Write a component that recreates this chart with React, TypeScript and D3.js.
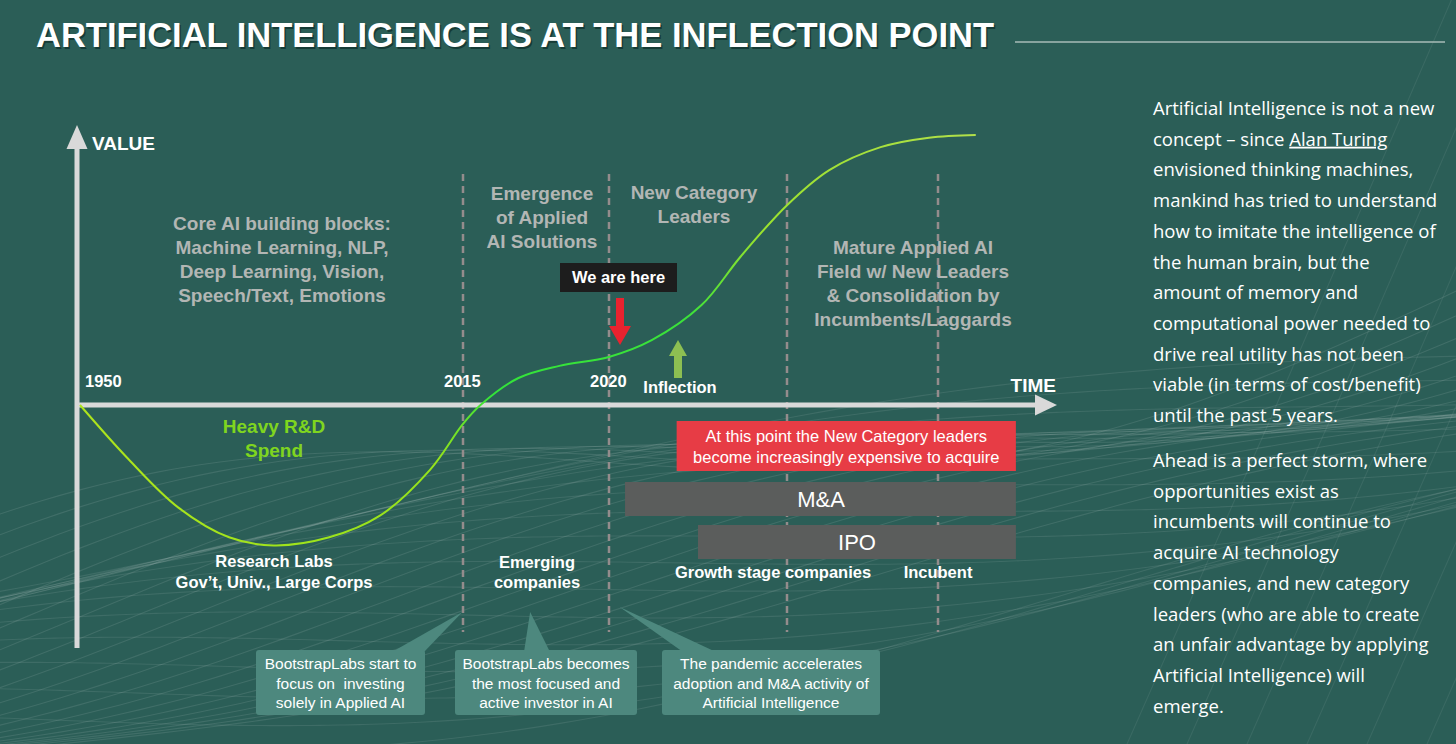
import * as d3 from "d3";

// ---- data ----
// conceptual time axis: years are placed on a piecewise scale
const axisYears = [1950, 2015, 2020, 2025, 2030, 2035];
const yearTicks = [1950, 2015, 2020];
const phaseDividers = [2015, 2020, 2025, 2030];

// value curve (relative value, 0 = time axis, 1 = plateau)
const curveYears = [1950, 1958.2, 1966.7, 1975.3, 1982.9, 1992.3, 2000.9, 2009.4, 2015, 2015.6, 2016.9, 2018.3, 2020, 2021.2, 2022.6, 2023.7, 2025, 2026.4, 2028.1, 2029.7, 2031.6];
const curveValues = [0, -0.2, -0.38, -0.49, -0.52, -0.49, -0.41, -0.24, -0.07, 0, 0.1, 0.145, 0.178, 0.24, 0.37, 0.55, 0.74, 0.87, 0.955, 0.99, 1.0];

const phaseCore = ["Core AI building blocks:", "Machine Learning, NLP,", "Deep Learning, Vision,", "Speech/Text, Emotions"];
const phaseEmergence = ["Emergence", "of Applied", "AI Solutions"];
const phaseLeaders = ["New Category", "Leaders"];
const phaseMature = ["Mature Applied AI", "Field w/ New Leaders", "& Consolidation by", "Incumbents/Laggards"];

const redNote = ["At this point the New Category leaders", "become increasingly expensive to acquire"];
const exitLabels = ["M&A", "IPO"];
const exitFrom = [2020.45, 2022.5];
const exitTo = [2033.3, 2033.3];
const redFrom = 2021.9;

const callouts = [
  ["BootstrapLabs start to", "focus on  investing", "solely in Applied AI"],
  ["BootstrapLabs becomes", "the most focused and", "active investor in AI"],
  ["The pandemic accelerates", "adoption and M&A activity of", "Artificial Intelligence"],
];
const calloutTipYears = [2014.9, 2017.3, 2020.3];

const para1 = [
  "Artificial Intelligence is not a new",
  "concept – since |Alan Turing",
  "envisioned thinking machines,",
  "mankind has tried to understand",
  "how to imitate the intelligence of",
  "the human brain, but the",
  "amount of memory and",
  "computational power needed to",
  "drive real utility has not been",
  "viable (in terms of cost/benefit)",
  "until the past 5 years.",
];
const para2 = [
  "Ahead is a perfect storm, where",
  "opportunities exist as",
  "incumbents will continue to",
  "acquire AI technology",
  "companies, and new category",
  "leaders (who are able to create",
  "an unfair advantage by applying",
  "Artificial Intelligence) will",
  "emerge.",
];

const W = 1456;
const H = 744;
const BG = "#2b5e57";
const AXIS = "#d9d9d9";
const GREY_TXT = "#b2b6b4";
const DIVIDER = "#948c8c";
const SANS = "'Liberation Sans', Arial, Helvetica, sans-serif";
const OPEN = "'Open Sans', sans-serif";
const TITLE = "ARTIFICIAL INTELLIGENCE IS AT THE INFLECTION POINT";

const x = d3.scaleLinear().domain(axisYears).range([80, 463, 609, 787, 938, 1056]);
const y = d3.scaleLinear().domain([0, 1]).range([405, 135]);

const curvePath = d3
  .line<number>()
  .x((d) => x(d))
  .y((_, i) => y(curveValues[i]))
  .curve(d3.curveCatmullRom.alpha(0.5))(curveYears) as string;

// faint background mesh (decorative texture only)
const meshA = d3.range(20).map((i) => {
  const pts = d3.range(-20, W + 41, 20).map((px) => [
    px,
    750 - i * 9 - 0.2 * px + (28 + i * 2.5) * Math.sin(px / 280 + i * 0.22),
  ] as [number, number]);
  return d3.line().curve(d3.curveBasis)(pts) as string;
});
const meshB = d3.range(16).map((i) => {
  const pts = d3.range(-20, W + 41, 20).map((px) => [
    px,
    555 + i * 12 - 0.13 * px + (40 + i * 1.5) * Math.sin(px / 360 + 2 + i * 0.3),
  ] as [number, number]);
  return d3.line().curve(d3.curveBasis)(pts) as string;
});
const diagLines = d3.range(7).map((i) => {
  const x0 = 1120 + i * 60;
  return d3.line()([
    [x0, 760],
    [x0 + 150, 420],
    [x0 + 340, -20],
  ]) as string;
});

function lines(arr: string[], cx: number, y0: number, dy: number, props: any) {
  return arr.map((t, i) => (
    <text key={t + i} x={cx} y={y0 + i * dy} textAnchor="middle" style={{ whiteSpace: "pre" }} {...props}>
      {t}
    </text>
  ));
}

export default function App() {
  const boxes = [
    { x0: 256, x1: 425, base: [392, 424] },
    { x0: 455, x1: 637, base: [524, 550] },
    { x0: 662, x1: 880, base: [683, 716] },
  ];
  return (
    <div style={{ position: "absolute", left: 0, top: 0 }}>
      <svg width={W} height={H} style={{ display: "block" }}>
        <defs>
          <linearGradient id="curveGrad" gradientUnits="userSpaceOnUse" x1={80} x2={975} y1={0} y2={0}>
            <stop offset="0" stopColor="#aee41c" />
            <stop offset="0.4" stopColor="#95e31c" />
            <stop offset="0.46" stopColor="#33e33a" />
            <stop offset="0.68" stopColor="#3be23a" />
            <stop offset="0.76" stopColor="#9ae22e" />
            <stop offset="1" stopColor="#b2e04a" />
          </linearGradient>
        </defs>
        <rect width={W} height={H} fill={BG} />

        {/* background texture */}
        <g fill="none" stroke="#ffffff" strokeWidth={1.1}>
          {meshA.map((d, i) => (
            <path key={"a" + i} d={d} strokeOpacity={0.1} />
          ))}
          {meshB.map((d, i) => (
            <path key={"b" + i} d={d} strokeOpacity={0.09} />
          ))}
          {diagLines.map((d, i) => (
            <path key={"c" + i} d={d} strokeOpacity={0.07} />
          ))}
        </g>

        {/* title */}
        <text x={37.5} y={48.5} fontFamily={SANS} fontWeight="bold" fontSize={34.5} fill="#163b36" textLength={958} lengthAdjust="spacingAndGlyphs">
          {TITLE}
        </text>
        <text x={36} y={47} fontFamily={SANS} fontWeight="bold" fontSize={34.5} fill="#ffffff" textLength={958} lengthAdjust="spacingAndGlyphs">
          {TITLE}
        </text>
        <line x1={1015} x2={1445} y1={42} y2={42} stroke="#a9bcb7" strokeWidth={1.5} />

        {/* phase dividers */}
        {phaseDividers.map((yr) => (
          <line key={yr} x1={x(yr)} x2={x(yr)} y1={174} y2={632} stroke={DIVIDER} strokeWidth={2.5} strokeDasharray="7 5" />
        ))}

        {/* axes */}
        <line x1={77} x2={77} y1={648} y2={146} stroke={AXIS} strokeWidth={5} />
        <path d="M77,125 L66.5,149 L87.5,149 Z" fill={AXIS} />
        <line x1={75} x2={1036} y1={y(0)} y2={y(0)} stroke={AXIS} strokeWidth={5} />
        <path d={`M1057,${y(0)} L1035,${y(0) - 10.5} L1035,${y(0) + 10.5} Z`} fill={AXIS} />

        <text x={92} y={150} fontFamily={SANS} fontWeight="bold" fontSize={19} fill="#fff">VALUE</text>
        <text x={1056} y={392} textAnchor="end" fontFamily={SANS} fontWeight="bold" fontSize={19} fill="#fff">TIME</text>
        {yearTicks.map((yr, i) => (
          <text key={yr} x={i === 0 ? 85 : x(yr) - 19} y={387} fontFamily={SANS} fontWeight="bold" fontSize={16.5} fill="#fff">
            {yr}
          </text>
        ))}

        {/* phase descriptions */}
        {lines(phaseCore, 282, 230, 24, { fontFamily: SANS, fontWeight: "bold", fontSize: 19, fill: GREY_TXT })}
        {lines(phaseEmergence, 542, 200, 24, { fontFamily: SANS, fontWeight: "bold", fontSize: 19, fill: GREY_TXT })}
        {lines(phaseLeaders, 694, 199, 24, { fontFamily: SANS, fontWeight: "bold", fontSize: 19, fill: GREY_TXT })}
        {lines(phaseMature, 913, 254, 24, { fontFamily: SANS, fontWeight: "bold", fontSize: 19, fill: GREY_TXT })}

        {/* value curve */}
        <path d={curvePath} fill="none" stroke="url(#curveGrad)" strokeWidth={2} />

        {/* we are here */}
        <rect x={560} y={263} width={117} height={29} fill="#1d1d1d" />
        <text x={618.5} y={283} textAnchor="middle" fontFamily={SANS} fontWeight="bold" fontSize={16.5} fill="#fff">We are here</text>
        <path d="M616,298 L624,298 L624,326 L631,326 L620,345 L609,326 L616,326 Z" fill="#e8232f" />
        <path d="M678,340 L687,356 L682,356 L682,378 L674,378 L674,356 L669,356 Z" fill="#8dbf52" />
        <text x={680} y={393} textAnchor="middle" fontFamily={SANS} fontWeight="bold" fontSize={16.5} fill="#fff">Inflection</text>

        {/* heavy R&D */}
        {lines(["Heavy R&D", "Spend"], 274, 433, 24, { fontFamily: SANS, fontWeight: "bold", fontSize: 19, fill: "#7fd51f" })}

        {/* red note + exit bands */}
        <rect x={x(redFrom)} y={421} width={x(exitTo[0]) - x(redFrom)} height={50} fill="#e73c45" />
        {lines(redNote, (x(redFrom) + x(exitTo[0])) / 2, 442, 21, { fontFamily: SANS, fontSize: 16.5, fill: "#fff" })}
        {exitLabels.map((lab, i) => (
          <g key={lab}>
            <rect x={x(exitFrom[i])} y={482 + i * 43} width={x(exitTo[i]) - x(exitFrom[i])} height={34} fill="#5b5d5c" />
            <text x={i === 0 ? 821 : 857} y={507 + i * 43} textAnchor="middle" fontFamily={SANS} fontSize={22} fill="#fff">
              {lab}
            </text>
          </g>
        ))}

        {/* company stage labels */}
        {lines(["Research Labs", "Gov’t, Univ., Large Corps"], 274, 567, 21, { fontFamily: SANS, fontWeight: "bold", fontSize: 16.5, fill: "#fff" })}
        {lines(["Emerging", "companies"], 537, 568, 20, { fontFamily: SANS, fontWeight: "bold", fontSize: 16.5, fill: "#fff" })}
        <text x={773} y={578} textAnchor="middle" fontFamily={SANS} fontWeight="bold" fontSize={16.5} fill="#fff">Growth stage companies</text>
        <text x={938} y={578} textAnchor="middle" fontFamily={SANS} fontWeight="bold" fontSize={16.5} fill="#fff">Incubent</text>

        {/* callouts */}
        {callouts.map((c, i) => {
          const b = boxes[i];
          const tipX = x(calloutTipYears[i]);
          const tipY = i === 2 ? 607 : 612;
          return (
            <g key={i}>
              <path d={`M${b.base[0]},652 L${tipX},${tipY} L${b.base[1]},652 Z`} fill="#4d887e" />
              <rect x={b.x0} y={650} width={b.x1 - b.x0} height={65} rx={3} fill="#4d887e" />
              {lines(c, (b.x0 + b.x1) / 2, 669, 19.5, { fontFamily: SANS, fontSize: 15.5, fill: "#fff" })}
            </g>
          );
        })}

        {/* right column text */}
        <g fontFamily={OPEN} fontSize={18.5} fill="#fff">
          {para1.map((t, i) => {
            const parts = t.split("|");
            return (
              <text key={"p1" + i} x={1153} y={115 + i * 30.7}>
                {parts[0]}
                {parts[1] && <tspan textDecoration="underline" style={{ textDecoration: "underline" }}>{parts[1]}</tspan>}
              </text>
            );
          })}
          {para2.map((t, i) => (
            <text key={"p2" + i} x={1153} y={467 + i * 30.7}>
              {t}
            </text>
          ))}
        </g>
      </svg>
    </div>
  );
}
